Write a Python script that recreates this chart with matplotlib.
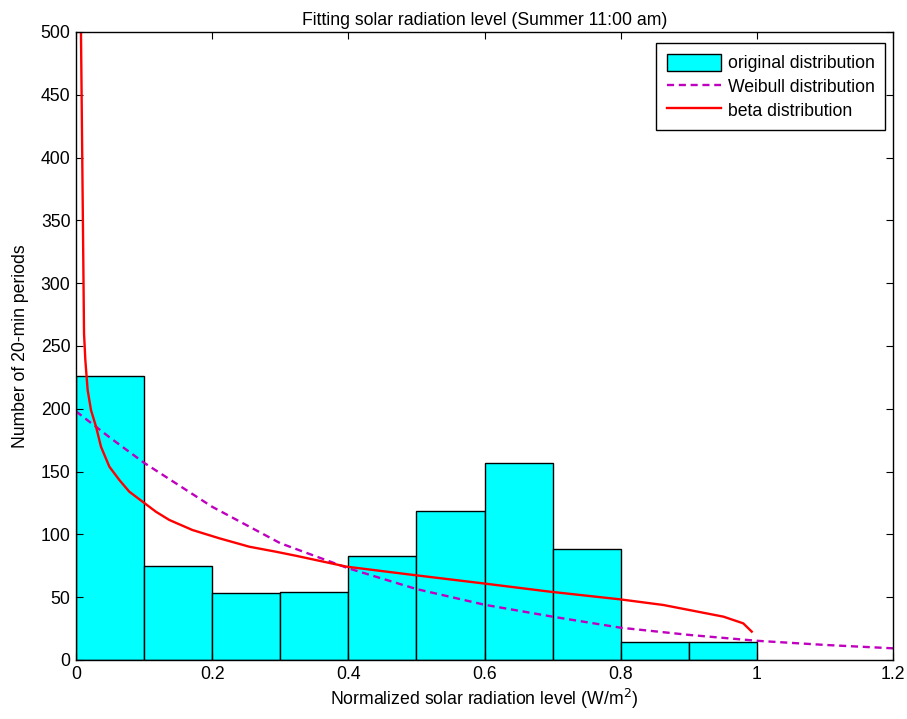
import matplotlib
matplotlib.use("Agg")
import matplotlib.pyplot as plt
import numpy as np

plt.rcParams['font.family'] = ['Liberation Sans', 'DejaVu Sans']

# Histogram data
bin_edges = [0.0, 0.1, 0.2, 0.3, 0.4, 0.5, 0.6, 0.7, 0.8, 0.9, 1.0]
counts = [226, 75, 53, 54, 82.5, 118.6, 157, 88, 14.6, 14.6]

# Weibull fit
weib_x = [0.0, 0.05, 0.1, 0.2, 0.3, 0.4, 0.5, 0.6, 0.7, 0.8, 0.9, 1.0, 1.1, 1.2]
weib_y = [198, 177, 157, 122, 93, 73, 56.5, 44, 34.5, 25.7, 20, 15.3, 12, 9.3]

# Beta fit
beta_x = [0.0073, 0.0118, 0.0137, 0.0171, 0.0220, 0.0294, 0.0367, 0.0490, 0.0637,
          0.0783, 0.0979, 0.1175, 0.137, 0.171, 0.2105, 0.2545, 0.2937, 0.323,
          0.3976, 0.4955, 0.598, 0.696, 0.799, 0.8627, 0.951, 0.980, 0.9925]
beta_y = [500, 260, 238.9, 215, 199, 185.8, 169.8, 153.9, 143.3,
          134, 126, 118, 111.5, 103.5, 96.9, 90.2, 86.2, 83.0,
          74.3, 67.7, 61, 54.4, 48.3, 43.8, 34.5, 29.2, 22.6]

FS = 12.7

fig = plt.figure(figsize=(9.07, 7.19), dpi=100)
ax = fig.add_axes([76/907, 59/719, 817/907, 628/719])

lefts = bin_edges[:-1]
widths = np.diff(bin_edges)
bars = ax.bar(lefts, counts, width=widths, align='edge', color='#00FFFF',
              edgecolor='black', linewidth=1.0, label='original distribution')
wl, = ax.plot(weib_x, weib_y, color='#BF00BF', linestyle=(0, (3, 2)), linewidth=1.7,
              label='Weibull distribution')
bl, = ax.plot(beta_x, beta_y, color='#FF0000', linewidth=1.7, label='beta distribution')

ax.set_xlim(0, 1.2)
ax.set_ylim(0, 500)
ax.set_xticks([0, 0.2, 0.4, 0.6, 0.8, 1.0, 1.2])
ax.set_xticklabels(['0', '0.2', '0.4', '0.6', '0.8', '1', '1.2'])
ax.set_yticks(np.arange(0, 501, 50))
ax.tick_params(direction='in', top=True, right=True, labelsize=FS, length=5, width=0.8, pad=4)
for s in ax.spines.values():
    s.set_linewidth(1.0)

ax.set_title('Fitting solar radiation level (Summer 11:00 am)', fontsize=FS, pad=5)
ax.set_xlabel('Normalized solar radiation level (W/m$^2$)', fontsize=FS, labelpad=3)
ax.set_ylabel('Number of 20-min periods', fontsize=FS, labelpad=8)

leg = ax.legend([bars, wl, bl],
                ['original distribution', 'Weibull distribution', 'beta distribution'],
                loc='upper right', bbox_to_anchor=((885 - 76) / 817, (660 - 43) / 628),
                borderaxespad=0, fontsize=FS, frameon=True, fancybox=False,
                edgecolor='black', framealpha=1,
                handlelength=3.1, handleheight=1.1, handletextpad=0.35,
                borderpad=0.6, labelspacing=0.3)
leg.get_frame().set_linewidth(1.0)

fig.savefig('out.png', dpi=100)
